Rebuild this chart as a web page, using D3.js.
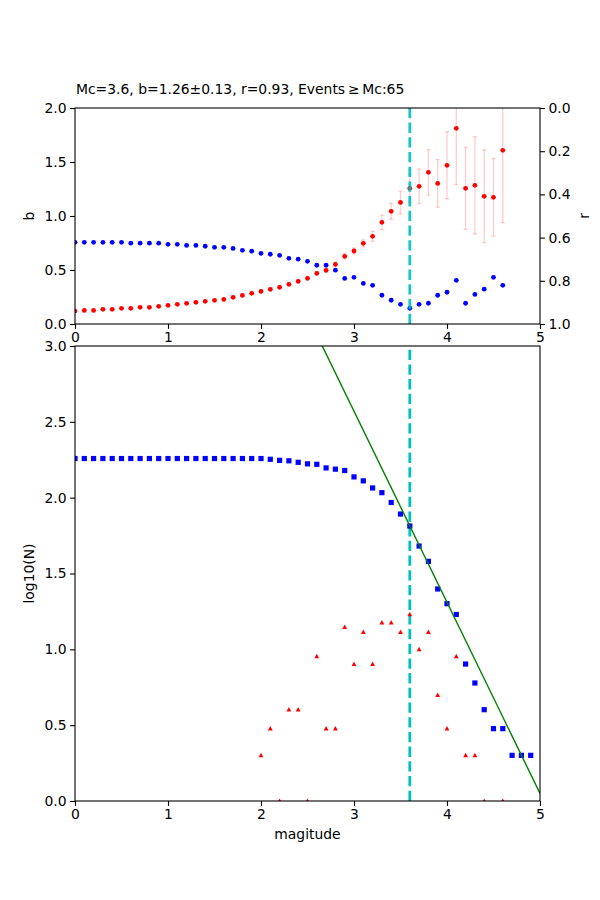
<!DOCTYPE html>
<html>
<head>
<meta charset="utf-8">
<script src="https://cdn.jsdelivr.net/npm/d3@7"></script>
<style>
  body { margin: 0; background: #fff; }
  svg { display: block; font-family: "DejaVu Sans", sans-serif; }
  text { fill: #000; }
</style>
</head>
<body>
<svg id="chart" width="600" height="900"></svg>
<script>
// ---------- data ----------
const titleText = "Mc=3.6, b=1.26\u00b10.13, r=0.93, Events\u2009\u2265\u2009Mc:65";
const mc = 3.6;
const fitA = 6.35;
const fitB = 1.26;

const magTop = [0.0,0.1,0.2,0.3,0.4,0.5,0.6,0.7,0.8,0.9,1.0,1.1,1.2,1.3,1.4,1.5,1.6,1.7,1.8,1.9,
  2.0,2.1,2.2,2.3,2.4,2.5,2.6,2.7,2.8,2.9,3.0,3.1,3.2,3.3,3.4,3.5,3.6,3.7,3.8,3.9,4.0,4.1,4.2,4.3,4.4,4.5,4.6];
const bValues = [0.120,0.126,0.126,0.136,0.136,0.145,0.145,0.154,0.154,0.164,0.173,0.182,0.191,0.201,0.210,
  0.219,0.228,0.247,0.265,0.284,0.302,0.321,0.340,0.367,0.395,0.423,
  0.469,0.497,0.553,0.627,0.676,0.747,0.812,0.941,1.043,1.126,1.256,1.275,1.404,1.302,1.469,1.812,
  1.256,1.284,1.182,1.173,1.608];
const bErrors = [0.004,0.004,0.004,0.004,0.004,0.004,0.004,0.005,0.005,0.005,0.005,0.005,0.006,0.006,0.006,
  0.007,0.007,0.008,0.008,0.009,0.010,0.011,0.012,0.013,0.014,0.015,
  0.015,0.018,0.020,0.025,0.028,0.032,0.046,0.068,0.074,0.106,0.130,0.160,0.210,0.220,0.310,0.520,
  0.380,0.450,0.430,0.360,0.670];
const rValues = [0.622,0.622,0.622,0.622,0.622,0.622,0.626,0.626,0.626,0.626,0.631,0.631,0.636,0.636,0.640,
  0.645,0.645,0.650,0.659,0.663,0.673,0.677,0.682,0.696,0.700,0.710,
  0.728,0.728,0.751,0.789,0.784,0.812,0.821,0.867,0.890,0.909,0.927,0.909,0.904,0.867,0.853,0.798,
  0.904,0.863,0.839,0.784,0.821];

const magBottom = [0.0,0.1,0.2,0.3,0.4,0.5,0.6,0.7,0.8,0.9,1.0,1.1,1.2,1.3,1.4,1.5,1.6,1.7,1.8,1.9,
  2.0,2.1,2.2,2.3,2.4,2.5,2.6,2.7,2.8,2.9,3.0,3.1,3.2,3.3,3.4,3.5,3.6,3.7,3.8,3.9,4.0,4.1,4.2,4.3,4.4,
  4.5,4.6,4.7,4.8,4.9];
const cumLogN = [2.258,2.258,2.258,2.258,2.258,2.258,2.258,2.258,2.258,2.258,2.258,2.258,2.258,2.258,2.258,
  2.258,2.258,2.258,2.258,2.258,2.258,2.253,2.246,2.243,2.233,2.223,2.220,2.196,2.188,2.179,
  2.137,2.111,2.064,2.033,1.968,1.892,1.813,1.681,1.580,1.398,1.301,1.230,0.903,0.778,0.602,
  0.477,0.477,0.301,0.301,0.301];
const binMag = [2.0,2.1,2.2,2.3,2.4,2.5,2.6,2.7,2.8,2.9,3.0,3.1,3.2,3.3,3.4,3.5,3.6,3.7,3.8,3.9,4.0,4.1,4.2,4.3,4.4,4.6];
const binLogN = [0.301,0.477,0,0.602,0.602,0,0.954,0.477,0.477,1.146,0.903,1.114,0.903,1.176,1.176,1.114,
  1.230,1.000,1.114,0.699,0.477,0.954,0.301,0.301,0,0];

const xTicks = [0,1,2,3,4,5];
const bTicks = [0.0,0.5,1.0,1.5,2.0];
const rTicks = [0.0,0.2,0.4,0.6,0.8,1.0];
const nTicks = [0.0,0.5,1.0,1.5,2.0,2.5,3.0];

// ---------- layout ----------
const svg = d3.select("#chart");
const L = 75, R = 540;
const topT = 108, topB = 324;
const botT = 346, botB = 801;
const FS = 13.9, TICK = 4.9, SW = 1.1;

const x = d3.scaleLinear().domain([0,5]).range([L,R]);
const yB = d3.scaleLinear().domain([0,2]).range([topB,topT]);
const yR = d3.scaleLinear().domain([0,1]).range([topT,topB]);
const yN = d3.scaleLinear().domain([0,3]).range([botB,botT]);

const defs = svg.append("defs");
defs.append("clipPath").attr("id","clipTop").append("rect")
  .attr("x",L).attr("y",topT).attr("width",R-L).attr("height",topB-topT);
defs.append("clipPath").attr("id","clipBot").append("rect")
  .attr("x",L).attr("y",botT).attr("width",R-L).attr("height",botB-botT);

const fmt1 = d3.format(".1f");

function styleAxis(g) {
  g.selectAll("path.domain").remove();
  g.selectAll(".tick line").attr("stroke","#000").attr("stroke-width",SW);
  g.selectAll(".tick text").attr("font-size",FS).attr("font-family","DejaVu Sans").attr("fill","#000");
}

// ---------- top panel ----------
const gTop = svg.append("g");
const topData = magTop.map((m,i)=>({m, b:bValues[i], e:bErrors[i], r:rValues[i]}));
const pTop = gTop.append("g").attr("clip-path","url(#clipTop)");

// error bars
const eb = pTop.append("g").attr("stroke","rgba(255,0,0,0.2)").attr("stroke-width",1.3);
eb.selectAll("line.v").data(topData).join("line")
  .attr("x1",d=>x(d.m)).attr("x2",d=>x(d.m))
  .attr("y1",d=>yB(d.b-d.e)).attr("y2",d=>yB(d.b+d.e));
eb.selectAll("line.c1").data(topData).join("line")
  .attr("x1",d=>x(d.m)-2).attr("x2",d=>x(d.m)+2)
  .attr("y1",d=>yB(d.b-d.e)).attr("y2",d=>yB(d.b-d.e));
eb.selectAll("line.c2").data(topData).join("line")
  .attr("x1",d=>x(d.m)-2).attr("x2",d=>x(d.m)+2)
  .attr("y1",d=>yB(d.b+d.e)).attr("y2",d=>yB(d.b+d.e));

pTop.append("g").selectAll("circle").data(topData).join("circle")
  .attr("cx",d=>x(d.m)).attr("cy",d=>yB(d.b)).attr("r",2.4).attr("fill","#ff0000");
pTop.append("g").selectAll("circle").data(topData).join("circle")
  .attr("cx",d=>x(d.m)).attr("cy",d=>yR(d.r)).attr("r",2.4).attr("fill","#0000ff");

pTop.append("line").attr("x1",x(mc)).attr("x2",x(mc)).attr("y1",topB).attr("y2",topT)
  .attr("stroke","#00bfbf").attr("stroke-width",2.78).attr("stroke-dasharray","10.3,4.4")
  .attr("opacity",0.9);

gTop.append("rect").attr("x",L).attr("y",topT).attr("width",R-L).attr("height",topB-topT)
  .attr("fill","none").attr("stroke","#000").attr("stroke-width",SW);

gTop.append("g").attr("transform",`translate(0,${topB})`)
  .call(d3.axisBottom(x).tickValues(xTicks).tickFormat(d3.format("d")).tickSizeOuter(0).tickSize(TICK).tickPadding(3.5))
  .call(styleAxis);
gTop.append("g").attr("transform",`translate(${L},0)`)
  .call(d3.axisLeft(yB).tickValues(bTicks).tickFormat(fmt1).tickSizeOuter(0).tickSize(TICK).tickPadding(3.5))
  .call(styleAxis);
gTop.append("g").attr("transform",`translate(${R},0)`)
  .call(d3.axisRight(yR).tickValues(rTicks).tickFormat(fmt1).tickSizeOuter(0).tickSize(TICK).tickPadding(3.5))
  .call(styleAxis);

svg.append("text").attr("x",L+1).attr("y",93.5).attr("font-size",FS).text(titleText);
svg.append("text").attr("transform",`translate(34,${(topT+topB)/2}) rotate(-90)`)
  .attr("text-anchor","middle").attr("font-size",FS).text("b");
svg.append("text").attr("transform",`translate(589,${(topT+topB)/2}) rotate(-90)`)
  .attr("text-anchor","middle").attr("font-size",FS).text("r");

// ---------- bottom panel ----------
const gBot = svg.append("g");
const pBot = gBot.append("g").attr("clip-path","url(#clipBot)");

pBot.append("line").attr("x1",x(mc)).attr("x2",x(mc)).attr("y1",botB).attr("y2",botT)
  .attr("stroke","#00bfbf").attr("stroke-width",2.78).attr("stroke-dasharray","10.3,4.4");

const binData = binMag.map((m,i)=>({m, v:binLogN[i]}));
pBot.append("g").selectAll("path").data(binData).join("path")
  .attr("transform",d=>`translate(${x(d.m)},${yN(d.v)})`)
  .attr("d","M0,-2.6L2.4,1.9L-2.4,1.9Z").attr("fill","#ff0000");

const cumData = magBottom.map((m,i)=>({m, v:cumLogN[i]}));
pBot.append("g").selectAll("rect").data(cumData).join("rect")
  .attr("x",d=>x(d.m)-2.6).attr("y",d=>yN(d.v)-2.6).attr("width",5.2).attr("height",5.2)
  .attr("fill","#0000ff");

const fitLine = d3.line().x(d=>x(d)).y(d=>yN(fitA - fitB*d));
pBot.append("path").datum([0,5]).attr("d",fitLine)
  .attr("fill","none").attr("stroke","#008000").attr("stroke-width",1.4);

gBot.append("rect").attr("x",L).attr("y",botT).attr("width",R-L).attr("height",botB-botT)
  .attr("fill","none").attr("stroke","#000").attr("stroke-width",SW);

gBot.append("g").attr("transform",`translate(0,${botB})`)
  .call(d3.axisBottom(x).tickValues(xTicks).tickFormat(d3.format("d")).tickSizeOuter(0).tickSize(TICK).tickPadding(3.5))
  .call(styleAxis);
gBot.append("g").attr("transform",`translate(${L},0)`)
  .call(d3.axisLeft(yN).tickValues(nTicks).tickFormat(fmt1).tickSizeOuter(0).tickSize(TICK).tickPadding(3.5))
  .call(styleAxis);

svg.append("text").attr("transform",`translate(34,${(botT+botB)/2}) rotate(-90)`)
  .attr("text-anchor","middle").attr("font-size",FS).text("log10(N)");
svg.append("text").attr("x",(L+R)/2).attr("y",839).attr("text-anchor","middle")
  .attr("font-size",FS).text("magitude");
</script>
</body>
</html>
